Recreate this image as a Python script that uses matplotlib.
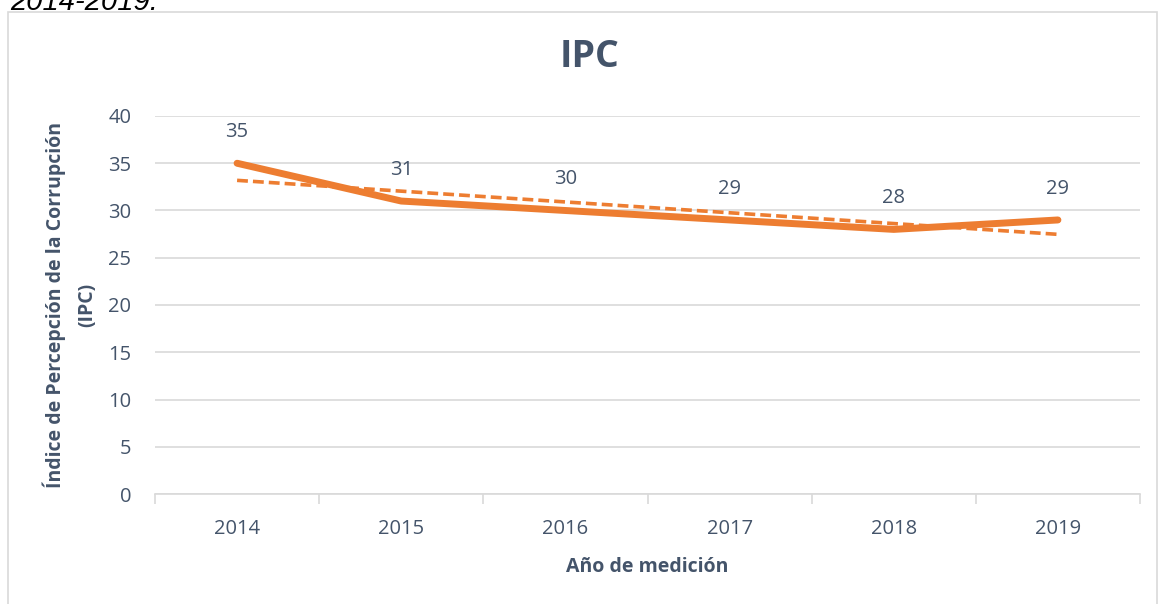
import matplotlib
matplotlib.use("Agg")
import matplotlib.pyplot as plt
import numpy as np
from matplotlib.patches import Rectangle

years = ["2014", "2015", "2016", "2017", "2018", "2019"]
ipc = [35, 31, 30, 29, 28, 29]
yticks = [0, 5, 10, 15, 20, 25, 30, 35, 40]

ORANGE = "#ED7D31"
TEXT = "#44546A"
GRID = "#D9D9D9"
FONT = "Open Sans"

plt.rcParams['font.family'] = [FONT, 'DejaVu Sans']

W, H = 1158, 604
fig = plt.figure(figsize=(W / 100, H / 100), dpi=100)

# chart frame
fig.patches.append(Rectangle((8 / W, -0.1), (W - 8 - 1) / W, (H - 12) / H + 0.1,
                             transform=fig.transFigure, fill=False,
                             edgecolor="#D9D9D9", linewidth=1.2))
# caption text at the top, partly cut off as in the source page
fig.text(10 / W, 1 - 10 / H, "2014-2019.", fontsize=21, style="italic",
         color="black", ha="left", va="baseline", family=["Liberation Sans"])

ax = fig.add_axes([155 / W, 1 - 494 / H, (1140 - 155) / W, (494 - 116) / H])

x = np.arange(len(years))
ax.plot(x, ipc, color=ORANGE, linewidth=5, solid_capstyle="round", zorder=3)

coef = np.polyfit(x, ipc, 1)
trend = np.polyval(coef, x)
ax.plot(x, trend, color=ORANGE, linewidth=2.6, linestyle=(0, (3, 1.4)), zorder=2)

for xi, v in zip(x, ipc):
    ax.annotate(str(v), (xi, v), xytext=(0, 22.5), textcoords="offset points",
                ha="center", va="center", fontsize=14.5, color=TEXT)

ax.set_xlim(-0.5, len(years) - 0.5)
ax.set_ylim(0, 40)
ax.set_yticks(yticks)
ax.set_yticklabels([str(t) for t in yticks])
ax.yaxis.grid(True, color=GRID, linewidth=1.2)
ax.set_axisbelow(True)

ax.set_xticks(x)
ax.set_xticklabels(years)
ax.set_xticks(np.arange(-0.5, len(years), 1.0), minor=True)
ax.tick_params(axis="x", which="major", length=0, pad=18, labelsize=14.5, labelcolor=TEXT)
ax.tick_params(axis="x", which="minor", length=7, width=1.2, color=GRID)
ax.tick_params(axis="y", length=0, pad=17, labelsize=14.5, labelcolor=TEXT)

for s in ["top", "right", "left"]:
    ax.spines[s].set_visible(False)
ax.spines["bottom"].set_color(GRID)
ax.spines["bottom"].set_linewidth(1.2)

ax.set_xlabel("Año de medición", fontsize=14, fontweight="bold", color=TEXT, labelpad=13)
ax.set_ylabel("Índice de Percepción de la Corrupción\n(IPC)", fontsize=14,
              fontweight="bold", color=TEXT, labelpad=8, linespacing=1.75)

fig.text(590 / W, 1 - 57 / H, "IPC", fontsize=27, fontweight="bold", color=TEXT,
         ha="center", va="center")

fig.savefig("out.png", dpi=100)
